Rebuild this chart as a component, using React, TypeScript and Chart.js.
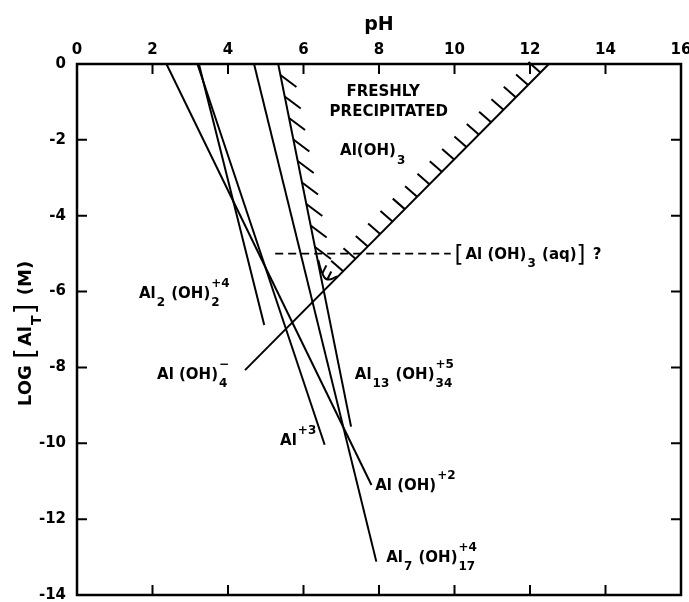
import React, { useEffect, useRef } from "react";
import { Chart, registerables } from "chart.js";

Chart.register(...registerables);

// ---------- data ----------
const PH_MIN = 0;
const PH_MAX = 16;
const PH_STEP = 2;
const LOG_MIN = -14;
const LOG_MAX = 0;
const LOG_STEP = 2;

// species lines: pH values and log[Al_T] values
const AL3_PH = [3.19, 6.56];
const AL3_LOG = [0, -10.04];
const ALOH_PH = [2.37, 7.8];
const ALOH_LOG = [0, -11.1];
const AL2_PH = [3.23, 4.96];
const AL2_LOG = [0, -6.88];
const AL7_PH = [4.69, 7.93];
const AL7_LOG = [0, -13.12];
const AL13_PH = [5.33, 7.26];
const AL13_LOG = [0, -9.56];
const ALOH4_PH = [4.45, 12.5];
const ALOH4_LOG = [-8.07, 0];
// rounded bottom of the solubility boundary
const CORNER_PH = [6.39, 6.5, 6.63, 6.9];
const CORNER_LOG = [-5.17, -5.52, -5.68, -5.6];
// Al(OH)3(aq) level
const AQ_PH = [5.25, 9.9];
const AQ_LOG = [-5, -5];

// ---------- annotation text ----------
const FONT = '"DejaVu Sans", sans-serif';
const ANNOTATIONS = [
  { text: "FRESHLY", ph: 8.11, log: -0.69, align: "center" },
  { text: "PRECIPITATED", ph: 8.26, log: -1.22, align: "center" },
  { text: "Al(OH)_{3}", ph: 6.97, log: -2.27, align: "left" },
  { text: "[Al (OH)_{3} (aq)] ?", ph: 10.0, log: -5.0, align: "left" },
  { text: "Al_{2} (OH)^{+4}_{2}", ph: 1.64, log: -6.03, align: "left" },
  { text: "Al (OH)^{\u2212}_{4}", ph: 2.12, log: -8.16, align: "left" },
  { text: "Al_{13} (OH)^{+5}_{34}", ph: 7.36, log: -8.16, align: "left" },
  { text: "Al^{+3}", ph: 5.38, log: -9.91, align: "left" },
  { text: "Al (OH)^{+2}", ph: 7.9, log: -11.1, align: "left" },
  { text: "Al_{7} (OH)^{+4}_{17}", ph: 8.19, log: -12.99, align: "left" },
];

const pts = (xs: number[], ys: number[]) => xs.map((x, i) => ({ x, y: ys[i] }));

type Tok = { text: string; type: "n" | "sub" | "sup" | "br" };
function parseRich(s: string): Tok[] {
  const out: Tok[] = [];
  let buf = "";
  let i = 0;
  const flush = () => {
    if (buf) {
      out.push({ text: buf, type: "n" });
      buf = "";
    }
  };
  while (i < s.length) {
    const c = s[i];
    if ((c === "_" || c === "^") && s[i + 1] === "{") {
      flush();
      const j = s.indexOf("}", i);
      out.push({ text: s.slice(i + 2, j), type: c === "_" ? "sub" : "sup" });
      i = j + 1;
      continue;
    }
    if (c === "[" || c === "]") {
      flush();
      out.push({ text: c, type: "br" });
      i++;
      continue;
    }
    buf += c;
    i++;
  }
  flush();
  return out;
}

function drawRich(
  ctx: CanvasRenderingContext2D,
  s: string,
  x: number,
  cy: number,
  fs: number,
  align: string
) {
  const toks = parseRich(s);
  const sfs = Math.round(fs * 0.8);
  const main = `bold ${fs}px ${FONT}`;
  const small = `bold ${sfs}px ${FONT}`;
  const big = `${Math.round(fs * 1.55)}px ${FONT}`;
  const items: { text: string; font: string; dx: number; dy: number }[] = [];
  let cx = 0;
  const base = cy + fs * 0.36;
  for (let i = 0; i < toks.length; i++) {
    const t = toks[i];
    if (t.type === "n") {
      ctx.font = main;
      items.push({ text: t.text, font: main, dx: cx, dy: base });
      cx += ctx.measureText(t.text).width;
    } else if (t.type === "br") {
      ctx.font = big;
      items.push({ text: t.text, font: big, dx: cx, dy: cy + fs * 0.55 });
      cx += ctx.measureText(t.text).width + 2;
    } else {
      ctx.font = small;
      const nxt = toks[i + 1];
      const stacked = nxt && (nxt.type === "sub" || nxt.type === "sup") && nxt.type !== t.type;
      const supY = cy - fs * 0.38;
      const subY = cy + fs * 0.62 + sfs * 0.36;
      let w = ctx.measureText(t.text).width;
      items.push({ text: t.text, font: small, dx: cx + 1, dy: t.type === "sup" ? supY : subY });
      if (stacked) {
        const w2 = ctx.measureText(nxt.text).width;
        items.push({ text: nxt.text, font: small, dx: cx + 1, dy: nxt.type === "sup" ? supY : subY });
        w = Math.max(w, w2);
        i++;
      }
      cx += w + 2;
    }
  }
  const off = align === "center" ? -cx / 2 : 0;
  ctx.textBaseline = "alphabetic";
  ctx.textAlign = "left";
  ctx.fillStyle = "#000";
  for (const it of items) {
    ctx.font = it.font;
    ctx.fillText(it.text, x + off + it.dx, it.dy);
  }
}

const decorPlugin = {
  id: "decor",
  afterDatasetsDraw(chart: any) {
    const ctx: CanvasRenderingContext2D = chart.ctx;
    const xs = chart.scales.x;
    const ys = chart.scales.y;
    const a = chart.chartArea;
    const px = (v: number) => xs.getPixelForValue(v);
    const py = (v: number) => ys.getPixelForValue(v);
    ctx.save();
    ctx.strokeStyle = "#000";
    ctx.lineCap = "butt";

    // hatches on Al13 boundary (inward = right/down)
    ctx.lineWidth = 2;
    {
      const x0 = px(AL13_PH[0]), y0 = py(AL13_LOG[0]);
      const x1 = px(AL13_PH[1]), y1 = py(AL13_LOG[1]);
      const yEnd = py(CORNER_LOG[0]);
      const slope = (x1 - x0) / (y1 - y0);
      for (let y = y0 + 11; y < yEnd - 4; y += 21.5) {
        const x = x0 + (y - y0) * slope;
        ctx.beginPath();
        ctx.moveTo(x, y);
        ctx.lineTo(x + 16, y + 12);
        ctx.stroke();
      }
    }
    // hatches on Al(OH)4- boundary (inward = up/left)
    {
      const xt = px(ALOH4_PH[1]), yt = py(ALOH4_LOG[1]);
      const xb = px(ALOH4_PH[0]), yb = py(ALOH4_LOG[0]);
      const L = Math.hypot(xb - xt, yb - yt);
      const ux = (xb - xt) / L, uy = (yb - yt) / L;
      const xStop = px(CORNER_PH[CORNER_PH.length - 1]);
      for (let d = 12; ; d += 17.5) {
        const x = xt + ux * d, y = yt + uy * d;
        if (x < xStop + 2) break;
        ctx.beginPath();
        ctx.moveTo(x, y);
        ctx.lineTo(x - 12, y - 10.5);
        ctx.stroke();
      }
    }
    // small hatches on rounded corner
    {
      for (let k = 1; k < CORNER_PH.length - 1; k++) {
        const x = px(CORNER_PH[k]), y = py(CORNER_LOG[k]);
        ctx.beginPath();
        ctx.moveTo(x, y);
        ctx.lineTo(x + 4, y - 8);
        ctx.stroke();
      }
    }

    // inside tick marks on all four sides
    ctx.lineWidth = 2;
    for (let v = PH_MIN + PH_STEP; v < PH_MAX; v += PH_STEP) {
      const x = px(v);
      ctx.beginPath();
      ctx.moveTo(x, a.top);
      ctx.lineTo(x, a.top + 10);
      ctx.moveTo(x, a.bottom);
      ctx.lineTo(x, a.bottom - 10);
      ctx.stroke();
    }
    for (let v = LOG_MIN + LOG_STEP; v < LOG_MAX; v += LOG_STEP) {
      const y = py(v);
      ctx.beginPath();
      ctx.moveTo(a.left, y);
      ctx.lineTo(a.left + 10, y);
      ctx.moveTo(a.right, y);
      ctx.lineTo(a.right - 10, y);
      ctx.stroke();
    }
    // frame
    ctx.lineWidth = 2.5;
    ctx.strokeRect(a.left, a.top, a.right - a.left, a.bottom - a.top);

    // annotations
    for (const an of ANNOTATIONS) {
      drawRich(ctx, an.text, px(an.ph), py(an.log), 15, an.align);
    }

    // y axis title (rotated, with subscript)
    ctx.save();
    ctx.translate(25, (a.top + a.bottom) / 2 + 4);
    ctx.rotate(-Math.PI / 2);
    drawRich(ctx, "LOG [Al_{T}] (M)", 0, 0, 18, "center");
    ctx.restore();

    ctx.restore();
  },
};

export default function App() {
  const ref = useRef<HTMLCanvasElement | null>(null);
  useEffect(() => {
    if (!ref.current) return;
    const line = (data: any, extra: any = {}) => ({
      data,
      showLine: true,
      borderColor: "#000",
      backgroundColor: "#000",
      borderWidth: 2,
      pointRadius: 0,
      fill: false,
      ...extra,
    });
    const tickFont = { family: FONT, size: 15, weight: "bold" as const };
    const chart = new Chart(ref.current, {
      type: "scatter",
      data: {
        datasets: [
          line(pts(AL3_PH, AL3_LOG)),
          line(pts(ALOH_PH, ALOH_LOG)),
          line(pts(AL2_PH, AL2_LOG)),
          line(pts(AL7_PH, AL7_LOG)),
          line(pts(AL13_PH, AL13_LOG)),
          line(pts(ALOH4_PH, ALOH4_LOG)),
          line(pts(CORNER_PH, CORNER_LOG), { tension: 0.5 }),
          line(pts(AQ_PH, AQ_LOG), { borderDash: [8, 5], borderWidth: 1.8 }),
        ],
      },
      options: {
        animation: false,
        responsive: false,
        maintainAspectRatio: false,
        layout: { padding: { left: 0, top: 0, right: 8, bottom: 7 } },
        plugins: { legend: { display: false }, tooltip: { enabled: false } },
        scales: {
          x: {
            type: "linear",
            position: "top",
            min: PH_MIN,
            max: PH_MAX,
            ticks: {
              stepSize: PH_STEP,
              color: "#000",
              font: tickFont,
              padding: 5,
              callback: (v: any) => String(v),
            },
            grid: { display: false, drawTicks: false },
            border: { display: false },
            title: {
              display: true,
              text: "pH",
              color: "#000",
              font: { family: FONT, size: 19, weight: "bold" },
              padding: { top: 14, bottom: 0 },
            },
            afterFit: (s: any) => {
              s.height = 64;
              s.paddingLeft = 0;
              s.paddingRight = 0;
            },
          },
          y: {
            type: "linear",
            min: LOG_MIN,
            max: LOG_MAX,
            ticks: {
              stepSize: LOG_STEP,
              color: "#000",
              font: tickFont,
              padding: 11,
              callback: (v: any) => String(v),
            },
            grid: { display: false, drawTicks: false },
            border: { display: false },
            afterFit: (s: any) => {
              s.width = 77;
              s.paddingTop = 0;
              s.paddingBottom = 0;
            },
          },
        },
      },
      plugins: [decorPlugin],
    });
    return () => chart.destroy();
  }, []);
  return (
    <div style={{ position: "fixed", left: 0, top: 0, width: 689, height: 602, background: "#fff" }}>
      <canvas ref={ref} width={689} height={602} />
    </div>
  );
}
